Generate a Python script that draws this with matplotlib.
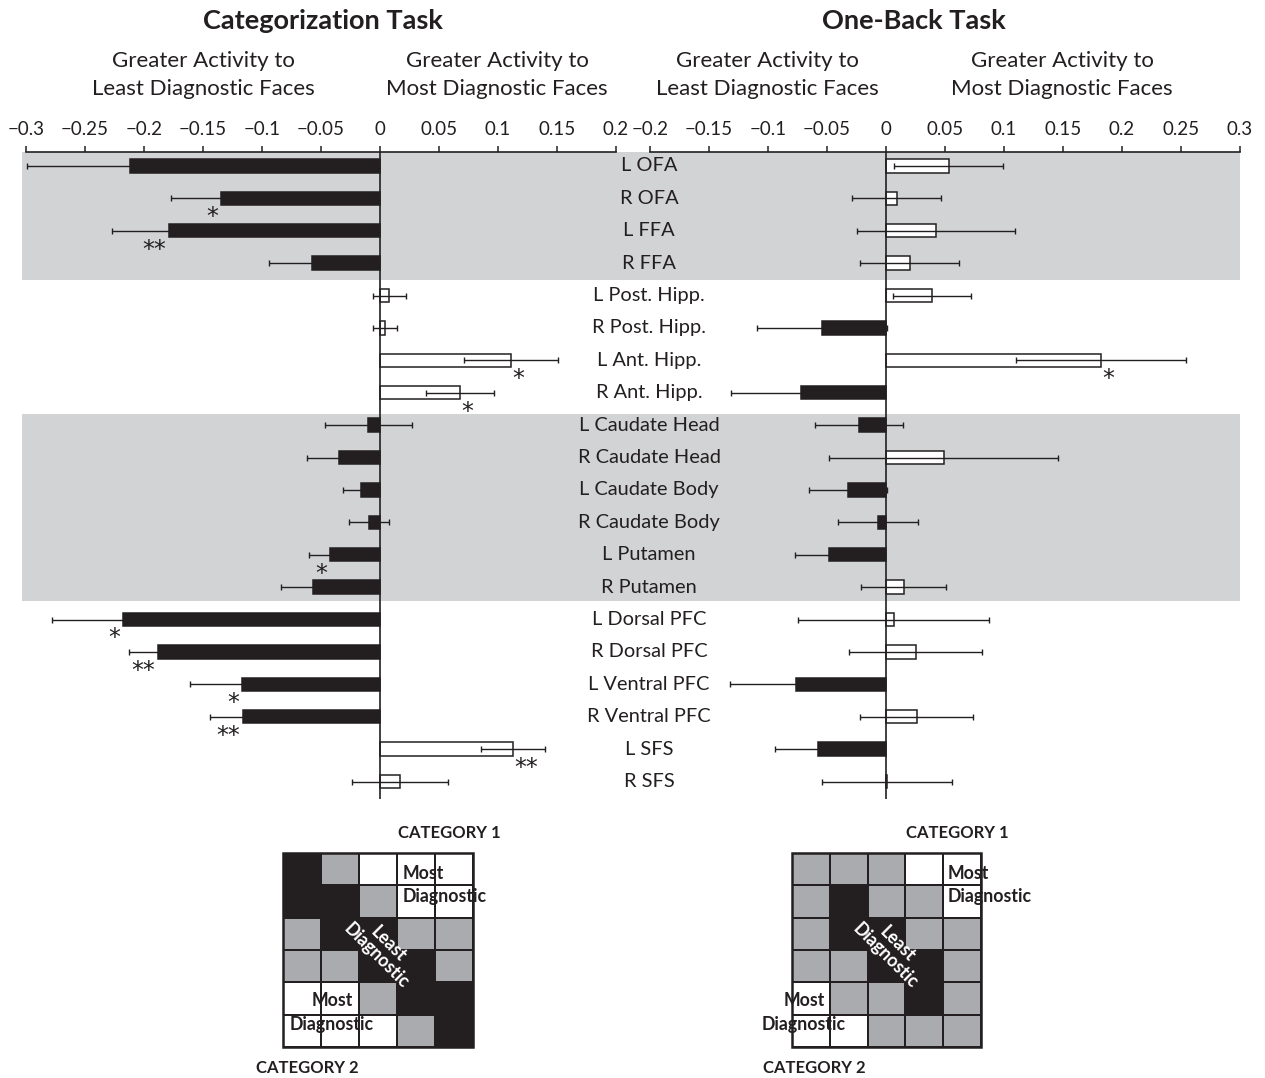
import matplotlib
matplotlib.use("Agg")
import matplotlib.pyplot as plt
from matplotlib.colors import ListedColormap
from matplotlib.patches import Rectangle
import numpy as np

plt.rcParams['font.family'] = ['Lato', 'DejaVu Sans']

# region of interest labels, top to bottom
regions = ["L OFA", "R OFA", "L FFA", "R FFA",
           "L Post. Hipp.", "R Post. Hipp.", "L Ant. Hipp.", "R Ant. Hipp.",
           "L Caudate Head", "R Caudate Head", "L Caudate Body", "R Caudate Body",
           "L Putamen", "R Putamen", "L Dorsal PFC", "R Dorsal PFC",
           "L Ventral PFC", "R Ventral PFC", "L SFS", "R SFS"]

# categorization task: most minus least diagnostic
cat_mean = [-0.212, -0.135, -0.179, -0.058, 0.008, 0.004, 0.111, 0.068,
            -0.010, -0.035, -0.016, -0.009, -0.042, -0.057, -0.218, -0.188,
            -0.117, -0.116, 0.113, 0.017]
cat_err = [0.087, 0.042, 0.048, 0.036, 0.014, 0.010, 0.040, 0.029,
           0.037, 0.027, 0.015, 0.017, 0.018, 0.027, 0.060, 0.025,
           0.044, 0.028, 0.027, 0.041]
cat_sig = ["", "*", "**", "", "", "", "*", "*", "", "", "", "", "*", "",
           "*", "**", "*", "**", "**", ""]

# one-back task
back_mean = [0.053, 0.009, 0.042, 0.020, 0.039, -0.054, 0.182, -0.072,
             -0.023, 0.049, -0.032, -0.007, -0.048, 0.015, 0.0065, 0.025,
             -0.076, 0.026, -0.058, 0.001]
back_err = [0.046, 0.038, 0.067, 0.042, 0.033, 0.055, 0.072, 0.059,
            0.037, 0.097, 0.033, 0.034, 0.029, 0.036, 0.081, 0.056,
            0.056, 0.048, 0.036, 0.055]
back_sig = ["", "", "", "", "", "", "*", "", "", "", "", "", "", "",
            "", "", "", "", "", ""]

cat_ticks = [-0.3, -0.25, -0.2, -0.15, -0.1, -0.05, 0, 0.05, 0.1, 0.15, 0.2]
back_ticks = [-0.2, -0.15, -0.1, -0.05, 0, 0.05, 0.1, 0.15, 0.2, 0.25, 0.3]

# shaded row groups (face areas, striatum)
bands = [(-0.43, 3.53), (7.65, 13.42)]

# stimulus space diagrams: K = least diagnostic, G = other, W = most diagnostic
cat_grid = ["KGWWW", "KKGWW", "GKKGG", "GGKKG", "WWGKK", "WWWGK"]
back_grid = ["GGGWW", "GKGGW", "GKKGG", "GGKKG", "WGGKG", "WWGGG"]

BLACK = "#231f20"
BAND = "#d1d3d4"
CELL_GREY = "#a9abae"

W, H = 1265, 1078
fig = plt.figure(figsize=(W / 100, H / 100), dpi=100)


def box(x0, y0, x1, y1):
    return [x0 / W, 1 - y1 / H, (x1 - x0) / W, (y1 - y0) / H]


ylim = (19.54, -0.43)
n = len(regions)
rows = np.arange(n)

bg = fig.add_axes(box(22, 152, 1240, 799))
bg.set_xlim(0, 1)
bg.set_ylim(*ylim)
bg.axis("off")
for top, bot in bands:
    bg.axhspan(top, bot, color=BAND, lw=0)
for i, name in enumerate(regions):
    bg.text((649 - 22) / (1240 - 22), i, name, ha="center", va="center",
            fontsize=14.4, color=BLACK)


def panel(rect, mean, err, sig, ticks, xlim):
    ax = fig.add_axes(box(*rect))
    ax.patch.set_alpha(0)
    mean = np.array(mean)
    colors = [BLACK if m < 0 else "white" for m in mean]
    ax.barh(rows, mean, height=0.41, color=colors, edgecolor=BLACK,
            linewidth=1.1, zorder=2)
    ax.errorbar(mean, rows, xerr=err, fmt="none", ecolor=BLACK,
                elinewidth=1.0, capsize=2.5, capthick=1.0, zorder=3)
    ax.axvline(0, color=BLACK, lw=1.2, zorder=4)
    for i, s in enumerate(sig):
        if not s:
            continue
        neg = mean[i] < 0
        ax.annotate(s, (mean[i], i + 0.80), xytext=(-2 if neg else 1, 0),
                    textcoords="offset points", ha="right" if neg else "left",
                    va="baseline", fontsize=17, family="DejaVu Sans",
                    color=BLACK, zorder=5)
    ax.set_xlim(*xlim)
    ax.set_ylim(*ylim)
    ax.set_yticks([])
    for side in ["left", "right", "bottom"]:
        ax.spines[side].set_visible(False)
    ax.spines["top"].set_linewidth(1.2)
    ax.spines["top"].set_color(BLACK)
    ax.xaxis.tick_top()
    ax.set_xticks(ticks)
    ax.set_xticklabels([("%g" % t).replace("-", "\u2212") for t in ticks])
    ax.tick_params(axis="x", direction="out", length=4, width=1.1,
                   pad=6, labelsize=13.5, colors=BLACK)
    return ax


panel((26, 152, 616, 799), cat_mean, cat_err, cat_sig, cat_ticks, (-0.3, 0.2))
panel((650, 152, 1240, 799), back_mean, back_err, back_sig, back_ticks, (-0.2, 0.3))

# titles and direction headers
fig.text(323 / W, 1 - 21 / H, "Categorization Task", ha="center", va="center",
         fontsize=19.5, fontweight="bold", color=BLACK)
fig.text(914 / W, 1 - 21 / H, "One-Back Task", ha="center", va="center",
         fontsize=19.5, fontweight="bold", color=BLACK)
for xc, lines in [(203, ("Greater Activity to", "Least Diagnostic Faces")),
                  (497, ("Greater Activity to", "Most Diagnostic Faces")),
                  (767, ("Greater Activity to", "Least Diagnostic Faces")),
                  (1062, ("Greater Activity to", "Most Diagnostic Faces"))]:
    fig.text(xc / W, 1 - 61 / H, lines[0], ha="center", va="center",
             fontsize=16, color=BLACK)
    fig.text(xc / W, 1 - 89 / H, lines[1], ha="center", va="center",
             fontsize=16, color=BLACK)

cmap = ListedColormap([BLACK, CELL_GREY, "white"])
code = {"K": 0, "G": 1, "W": 2}


def stimulus_grid(rect, layout, top_x, low_x):
    ax = fig.add_axes(box(*rect))
    cells = np.array([[code[c] for c in r] for r in layout])
    nr, nc = cells.shape
    ax.pcolormesh(np.arange(nc + 1), np.arange(nr + 1), cells, cmap=cmap,
                  vmin=0, vmax=2, edgecolors=BLACK, linewidth=1.3)
    ax.add_patch(Rectangle((0, 0), nc, nr, fill=False, edgecolor=BLACK,
                           lw=1.8, clip_on=False))
    ax.set_xlim(0, nc)
    ax.set_ylim(nr, 0)
    ax.axis("off")
    kw = dict(fontsize=12.8, fontweight="bold", color=BLACK, va="center",
              zorder=5)
    ax.text(top_x, 0.62, "Most", ha="left", **kw)
    ax.text(top_x, 1.36, "Diagnostic", ha="left", **kw)
    ax.text(low_x, 4.57, "Most", ha="center", **kw)
    ax.text(low_x, 5.31, "Diagnostic", ha="center", **kw)
    ax.text(2.62, 3.0, "Least\nDiagnostic", ha="center", va="center",
            rotation=-45, rotation_mode="anchor", multialignment="center",
            fontsize=12.8, fontweight="bold", color="white", linespacing=1.0,
            zorder=5)
    return ax


stimulus_grid((283, 853, 473, 1047), cat_grid, 3.16, 1.29)
stimulus_grid((792, 853, 981, 1047), back_grid, 4.13, 0.32)

for xc, yc, s in [(449, 833, "CATEGORY 1"), (307, 1068, "CATEGORY 2"),
                  (957, 833, "CATEGORY 1"), (814, 1068, "CATEGORY 2")]:
    fig.text(xc / W, 1 - yc / H, s, ha="center", va="center",
             fontsize=12, fontweight="bold", color=BLACK)

fig.savefig("out.png", dpi=100)
